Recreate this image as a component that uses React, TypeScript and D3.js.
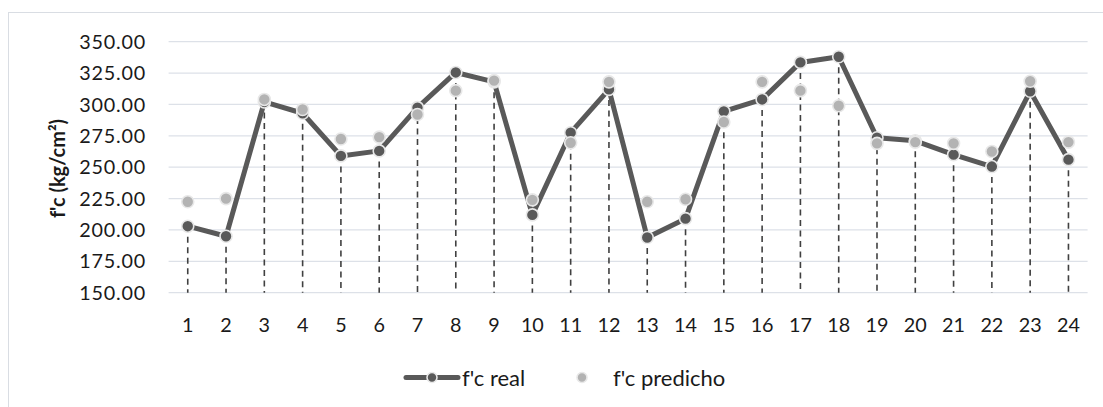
import React from "react";
import * as d3 from "d3";

// Specimen numbers along the x axis
const categories: string[] = Array.from({ length: 24 }, (_, i) => String(i + 1));

// Measured compressive strength f'c (kg/cm²)
const realValues: number[] = [
  203, 195, 302, 293, 259, 263, 297.5, 325.5, 318, 212, 277.5, 312,
  194, 209, 294.5, 304, 333.5, 338, 273.5, 271, 260, 250.5, 310.5, 256,
];

// Predicted compressive strength f'c (kg/cm²)
const predValues: number[] = [
  222.5, 225, 304, 296, 272.5, 274, 292, 311, 319, 224, 269.5, 318,
  222.5, 224.5, 286, 318, 311, 299, 269, 270, 269, 262.5, 318.5, 270,
];

const yTicks: number[] = [150, 175, 200, 225, 250, 275, 300, 325, 350];

const seriesNames = { real: "f'c real", pred: "f'c predicho" };

const W = 1103;
const H = 407;
const FONT = "Lato, 'Open Sans', sans-serif";

export default function App() {
  const x = d3.scaleBand<string>().domain(categories).range([168.6, 1087.6]);
  const y = d3.scaleLinear().domain([150, 350]).range([292.7, 41.7]);
  const cx = (c: string) => (x(c) as number) + x.bandwidth() / 2;

  const line = d3
    .line<number>()
    .x((_, i) => cx(categories[i]))
    .y((d) => y(d));

  const darkFill = "#595959";
  const lightFill = "#b3b3b3";
  const ring = "#e8e8e8";

  return (
    <svg
      width={W}
      height={H}
      style={{ position: "absolute", left: 0, top: 0, background: "#fff" }}
      fontFamily={FONT}
    >
      {/* chart frame */}
      <rect x={8.5} y={12.5} width={W + 10} height={H + 10} fill="none" stroke="#d9dde3" strokeWidth={1} />

      {/* horizontal gridlines */}
      {yTicks.map((t) => (
        <line key={t} x1={168.6} x2={1087.6} y1={y(t)} y2={y(t)} stroke="#dde1e8" strokeWidth={1.2} />
      ))}

      {/* y tick labels */}
      {yTicks.map((t) => (
        <text
          key={t}
          x={146}
          y={y(t)}
          dy="0.36em"
          textAnchor="end"
          fontSize={19.8}
          letterSpacing={0.8}
          fill="#1a1a1a"
        >
          {t.toFixed(2)}
        </text>
      ))}

      {/* y axis title */}
      <text
        transform={`translate(58,${168.5}) rotate(-90)`}
        textAnchor="middle"
        dy="0.35em"
        fontSize={20}
        fontWeight="bold"
        fill="#1a1a1a"
      >
        f'c (kg/cm²)
      </text>

      {/* x tick labels */}
      {categories.map((c) => (
        <text key={c} x={cx(c)} y={325} dy="0.36em" textAnchor="middle" fontSize={19.8} fill="#1a1a1a">
          {c}
        </text>
      ))}

      {/* drop lines from the measured values */}
      {categories.map((c, i) => (
        <line
          key={c}
          x1={cx(c)}
          x2={cx(c)}
          y1={y(realValues[i])}
          y2={y(150)}
          stroke="#404040"
          strokeWidth={1.6}
          strokeDasharray="6,4.5"
        />
      ))}

      {/* measured series line */}
      <path d={line(realValues) ?? ""} fill="none" stroke={darkFill} strokeWidth={5} strokeLinejoin="round" />

      {/* measured markers */}
      {categories.map((c, i) => (
        <circle key={c} cx={cx(c)} cy={y(realValues[i])} r={6} fill={darkFill} stroke={ring} strokeWidth={1.6} />
      ))}

      {/* predicted markers */}
      {categories.map((c, i) => (
        <circle key={c} cx={cx(c)} cy={y(predValues[i])} r={6} fill={lightFill} stroke={ring} strokeWidth={1.6} />
      ))}

      {/* legend */}
      <g>
        <line x1={406} x2={458} y1={377.5} y2={377.5} stroke={darkFill} strokeWidth={5} strokeLinecap="round" />
        <circle cx={432} cy={377.5} r={5} fill={darkFill} stroke={ring} strokeWidth={1.6} />
        <text x={462} y={385.5} fontSize={22} fill="#1a1a1a">
          {seriesNames.real}
        </text>
        <circle cx={582} cy={377.5} r={5} fill={lightFill} stroke={ring} strokeWidth={1.6} />
        <text x={613} y={385.5} fontSize={22} fill="#1a1a1a">
          {seriesNames.pred}
        </text>
      </g>
    </svg>
  );
}
